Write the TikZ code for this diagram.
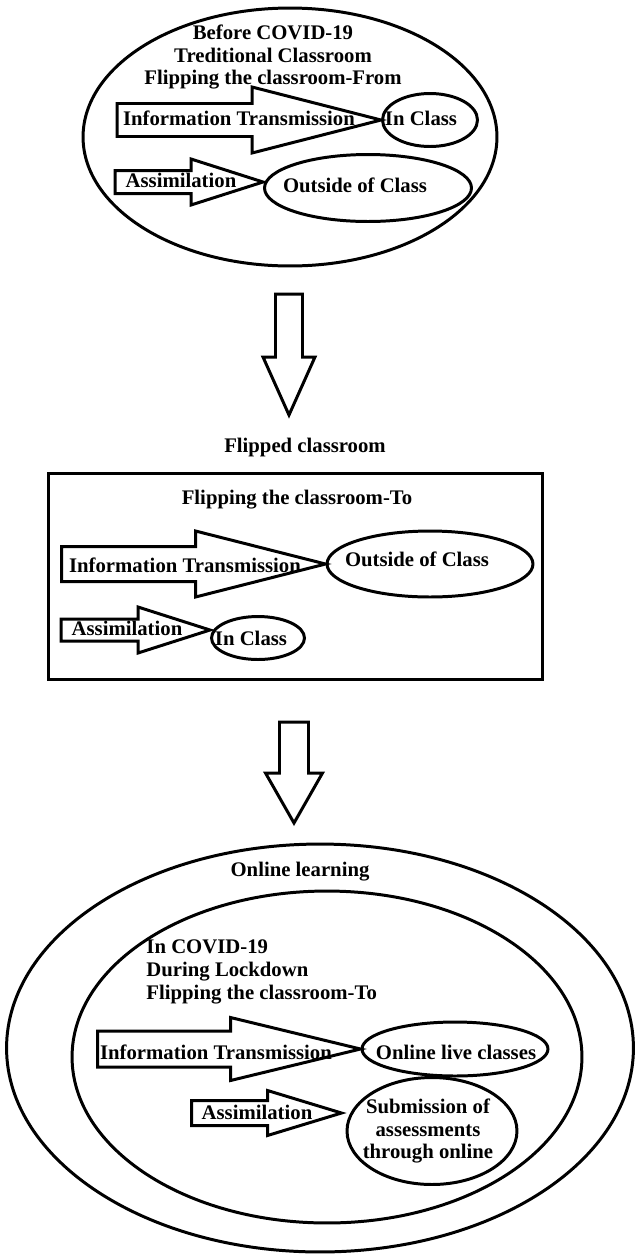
\documentclass[tikz,border=0pt]{standalone}
\usepackage{fontspec}
\setmainfont{Liberation Serif}
\usetikzlibrary{shapes.geometric, calc}

% fat arrow pointing right: tip, head length, head half, shaft half, shaft length
\newcommand{\sidearrow}[5]{%
  \draw[blockarr] (#1) -- ++(-#2,-#3) -- ++(0,#3-#4) -- ++(-#5,0) -- ++(0,2*#4) -- ++(#5,0) -- ++(0,#3-#4) -- cycle;}
% fat arrow pointing down
\newcommand{\droparrow}[5]{%
  \draw[blockarr] (#1) -- ++(-#3,-#2) -- ++(#3-#4,0) -- ++(0,-#5) -- ++(2*#4,0) -- ++(0,#5) -- ++(#3-#4,0) -- cycle;}

\begin{document}
\begin{tikzpicture}[
x=0.02cm, y=-0.02cm,
line width=1.7pt,
oval/.style={ellipse, draw, inner sep=0pt},
txt/.style={font=\bfseries\fontsize{11.8}{13}\selectfont, inner sep=0pt},
blockarr/.style={draw, line join=miter}
]
\useasboundingbox (0,0) rectangle (635,1255);

% before covid
\node[oval, minimum width=8.28cm, minimum height=5.16cm] (before) at (290,137) {};
\node[oval, minimum width=1.9cm, minimum height=1.06cm] (inclass1) at (430,120) {};
\node[oval, minimum width=4.14cm, minimum height=1.34cm] (outside1) at (368,188) {};
\coordinate (as1tip) at ($(outside1.west)+(0,-6)$);
\sidearrow{inclass1.west}{129}{33}{16.5}{135}
\sidearrow{as1tip}{72}{23}{11.5}{76}
\node[txt, align=center] (beforetitle) at (273,57) {Before COVID-19\\Treditional Classroom\\Flipping the classroom-From};
\node[txt] (info1) at (239,118) {Information Transmission};
\node[txt] (assim1) at (181,180) {Assimilation};
\node[txt] at (421,118) {In Class};
\node[txt] at (355,185) {Outside of Class};

\coordinate (down1) at (289,415);
\droparrow{down1}{58}{26}{13.5}{63}

% flipped classroom
\node[txt] (flipped) at (305,448) {Flipped classroom};
\node[draw, minimum width=9.9cm, minimum height=4.14cm, inner sep=0pt] (flipbox) at (295.5,576.5) {};
\node[oval, minimum width=4.12cm, minimum height=1.32cm] (outside2) at (430,564) {};
\node[oval, minimum width=1.86cm, minimum height=0.86cm] (inclass2) at (258,638) {};
\coordinate (as2tip) at ($(inclass2.west)+(0,-8)$);
\sidearrow{outside2.west}{130}{33}{17.5}{134}
\sidearrow{as2tip}{72}{23}{11}{77}
\node[txt] (title2) at (297,500) {Flipping the classroom-To};
\node[txt] (info2) at (185,565) {Information Transmission};
\node[txt] (assim2) at (127,628) {Assimilation};
\node[txt] at (417,559) {Outside of Class};
\node[txt] at (251,638) {In Class};

\coordinate (down2) at (294,823);
\droparrow{down2}{50}{28.5}{14.5}{51}

% online learning
\node[oval, minimum width=12.54cm, minimum height=8.16cm] (online) at (320,1048) {};
\node[oval, minimum width=10.2cm, minimum height=6.64cm] (lockdown) at (327,1057) {};
\node[oval, minimum width=3.72cm, minimum height=1.08cm] (live) at (455,1049) {};
\node[oval, minimum width=3.4cm, minimum height=2.14cm] (subm) at (432,1131) {};
\coordinate (as3tip) at ($(subm.west)+(-4,-18)$);
\sidearrow{live.west}{130}{31.5}{18}{133}
\sidearrow{as3tip}{74}{22.5}{12.5}{76}
\node[txt] (onlinetitle) at (300,872) {Online learning};
\node[txt, align=left, anchor=west] (lockdowntitle) at (145,972) {In COVID-19\\During Lockdown\\Flipping the classroom-To};
\node[txt] (info3) at (216,1052) {Information Transmission};
\node[txt] (assim3) at (257,1112) {Assimilation};
\node[txt] at (456,1052) {Online live classes};
\node[txt, align=center] at (428,1131) {Submission of\\assessments\\through online};

\end{tikzpicture}
\end{document}
